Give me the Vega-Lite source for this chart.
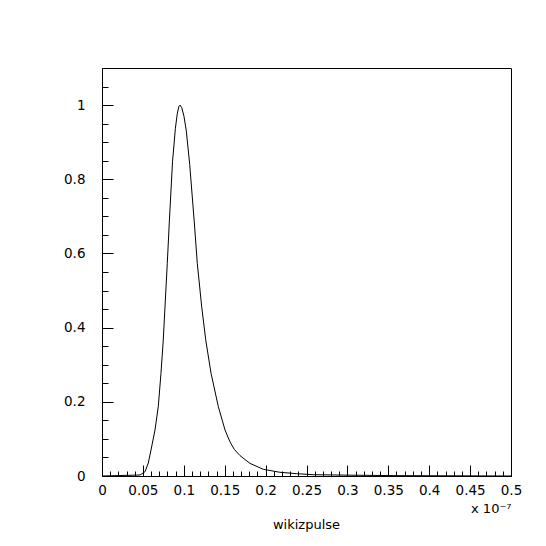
{
  "$schema": "https://vega.github.io/schema/vega-lite/v6.json",
  "width": 409,
  "height": 408,
  "autosize": "none",
  "padding": {"left": 102, "top": 68, "right": 35, "bottom": 70},
  "background": "white",
  "config": {
    "view": {"stroke": "black", "strokeWidth": 1},
    "font": "DejaVu Sans",
    "axis": {"grid": false, "domainColor": "black", "tickColor": "black", "labelColor": "black", "titleColor": "black", "labelFont": "DejaVu Sans", "titleFont": "DejaVu Sans", "labelFontSize": 13.5, "titleFontSize": 13, "titleFontWeight": "normal"}
  },
  "title": {"text": "wikizpulse", "orient": "bottom", "anchor": "middle", "fontSize": 13, "fontWeight": "normal", "font": "DejaVu Sans", "color": "black", "offset": 3},
  "data": {"values": [
    {"t": 0, "v": 0},
    {"t": 0.0465, "v": 0.0027},
    {"t": 0.0526, "v": 0.0116},
    {"t": 0.0566, "v": 0.035},
    {"t": 0.0599, "v": 0.07},
    {"t": 0.0648, "v": 0.124},
    {"t": 0.0688, "v": 0.187},
    {"t": 0.0721, "v": 0.277},
    {"t": 0.0749, "v": 0.367},
    {"t": 0.077, "v": 0.456},
    {"t": 0.0798, "v": 0.573},
    {"t": 0.0823, "v": 0.685},
    {"t": 0.0862, "v": 0.847},
    {"t": 0.0897, "v": 0.937},
    {"t": 0.0921, "v": 0.978},
    {"t": 0.094, "v": 0.996},
    {"t": 0.0954, "v": 1.0},
    {"t": 0.0975, "v": 0.993},
    {"t": 0.1002, "v": 0.97},
    {"t": 0.1031, "v": 0.93},
    {"t": 0.1072, "v": 0.84},
    {"t": 0.1128, "v": 0.685},
    {"t": 0.1165, "v": 0.573},
    {"t": 0.1219, "v": 0.456},
    {"t": 0.1268, "v": 0.367},
    {"t": 0.1333, "v": 0.277},
    {"t": 0.1422, "v": 0.187},
    {"t": 0.1504, "v": 0.124},
    {"t": 0.1565, "v": 0.092},
    {"t": 0.1617, "v": 0.072},
    {"t": 0.1687, "v": 0.055},
    {"t": 0.1809, "v": 0.034},
    {"t": 0.1972, "v": 0.018},
    {"t": 0.2176, "v": 0.01},
    {"t": 0.238, "v": 0.0062},
    {"t": 0.2583, "v": 0.0035},
    {"t": 0.3032, "v": 0.0022},
    {"t": 0.3603, "v": 0.001},
    {"t": 0.5, "v": 0}
  ]},
  "layer": [
    {
      "mark": {"type": "line", "color": "black", "strokeWidth": 1, "opacity": 0},
      "encoding": {
        "x": {"field": "t", "type": "quantitative", "scale": {"domain": [0, 0.5], "nice": false, "zero": false},
          "axis": {"orient": "bottom", "values": [0.01,0.02,0.03,0.04,0.06,0.07,0.08,0.09,0.11,0.12,0.13,0.14,0.16,0.17,0.18,0.19,0.21,0.22,0.23,0.24,0.26,0.27,0.28,0.29,0.31,0.32,0.33,0.34,0.36,0.37,0.38,0.39,0.41,0.42,0.43,0.44,0.46,0.47,0.48,0.49], "labels": false, "domain": false, "tickSize": -5, "title": null}},
        "y": {"field": "v", "type": "quantitative", "scale": {"domain": [0, 1.1], "nice": false, "zero": false},
          "axis": {"orient": "left", "values": [0.05,0.1,0.15,0.25,0.3,0.35,0.45,0.5,0.55,0.65,0.7,0.75,0.85,0.9,0.95,1.05], "labels": false, "domain": false, "tickSize": -6, "title": null}}
      }
    },
    {
      "mark": {"type": "line", "color": "black", "strokeWidth": 1},
      "encoding": {
        "x": {"field": "t", "type": "quantitative",
          "axis": {"orient": "bottom", "values": [0,0.05,0.1,0.15,0.2,0.25,0.3,0.35,0.4,0.45,0.5], "format": "~g", "tickSize": -11, "labelPadding": 18, "labelFlush": false, "title": "x 10⁻⁷", "titleAnchor": "end", "titleAlign": "right", "titlePadding": 6}},
        "y": {"field": "v", "type": "quantitative",
          "axis": {"orient": "left", "values": [0,0.2,0.4,0.6,0.8,1], "format": "~g", "tickSize": -11, "labelPadding": 28, "labelFlush": false, "title": null}}
      }
    }
  ],
  "resolve": {"axis": {"x": "independent", "y": "independent"}}
}
